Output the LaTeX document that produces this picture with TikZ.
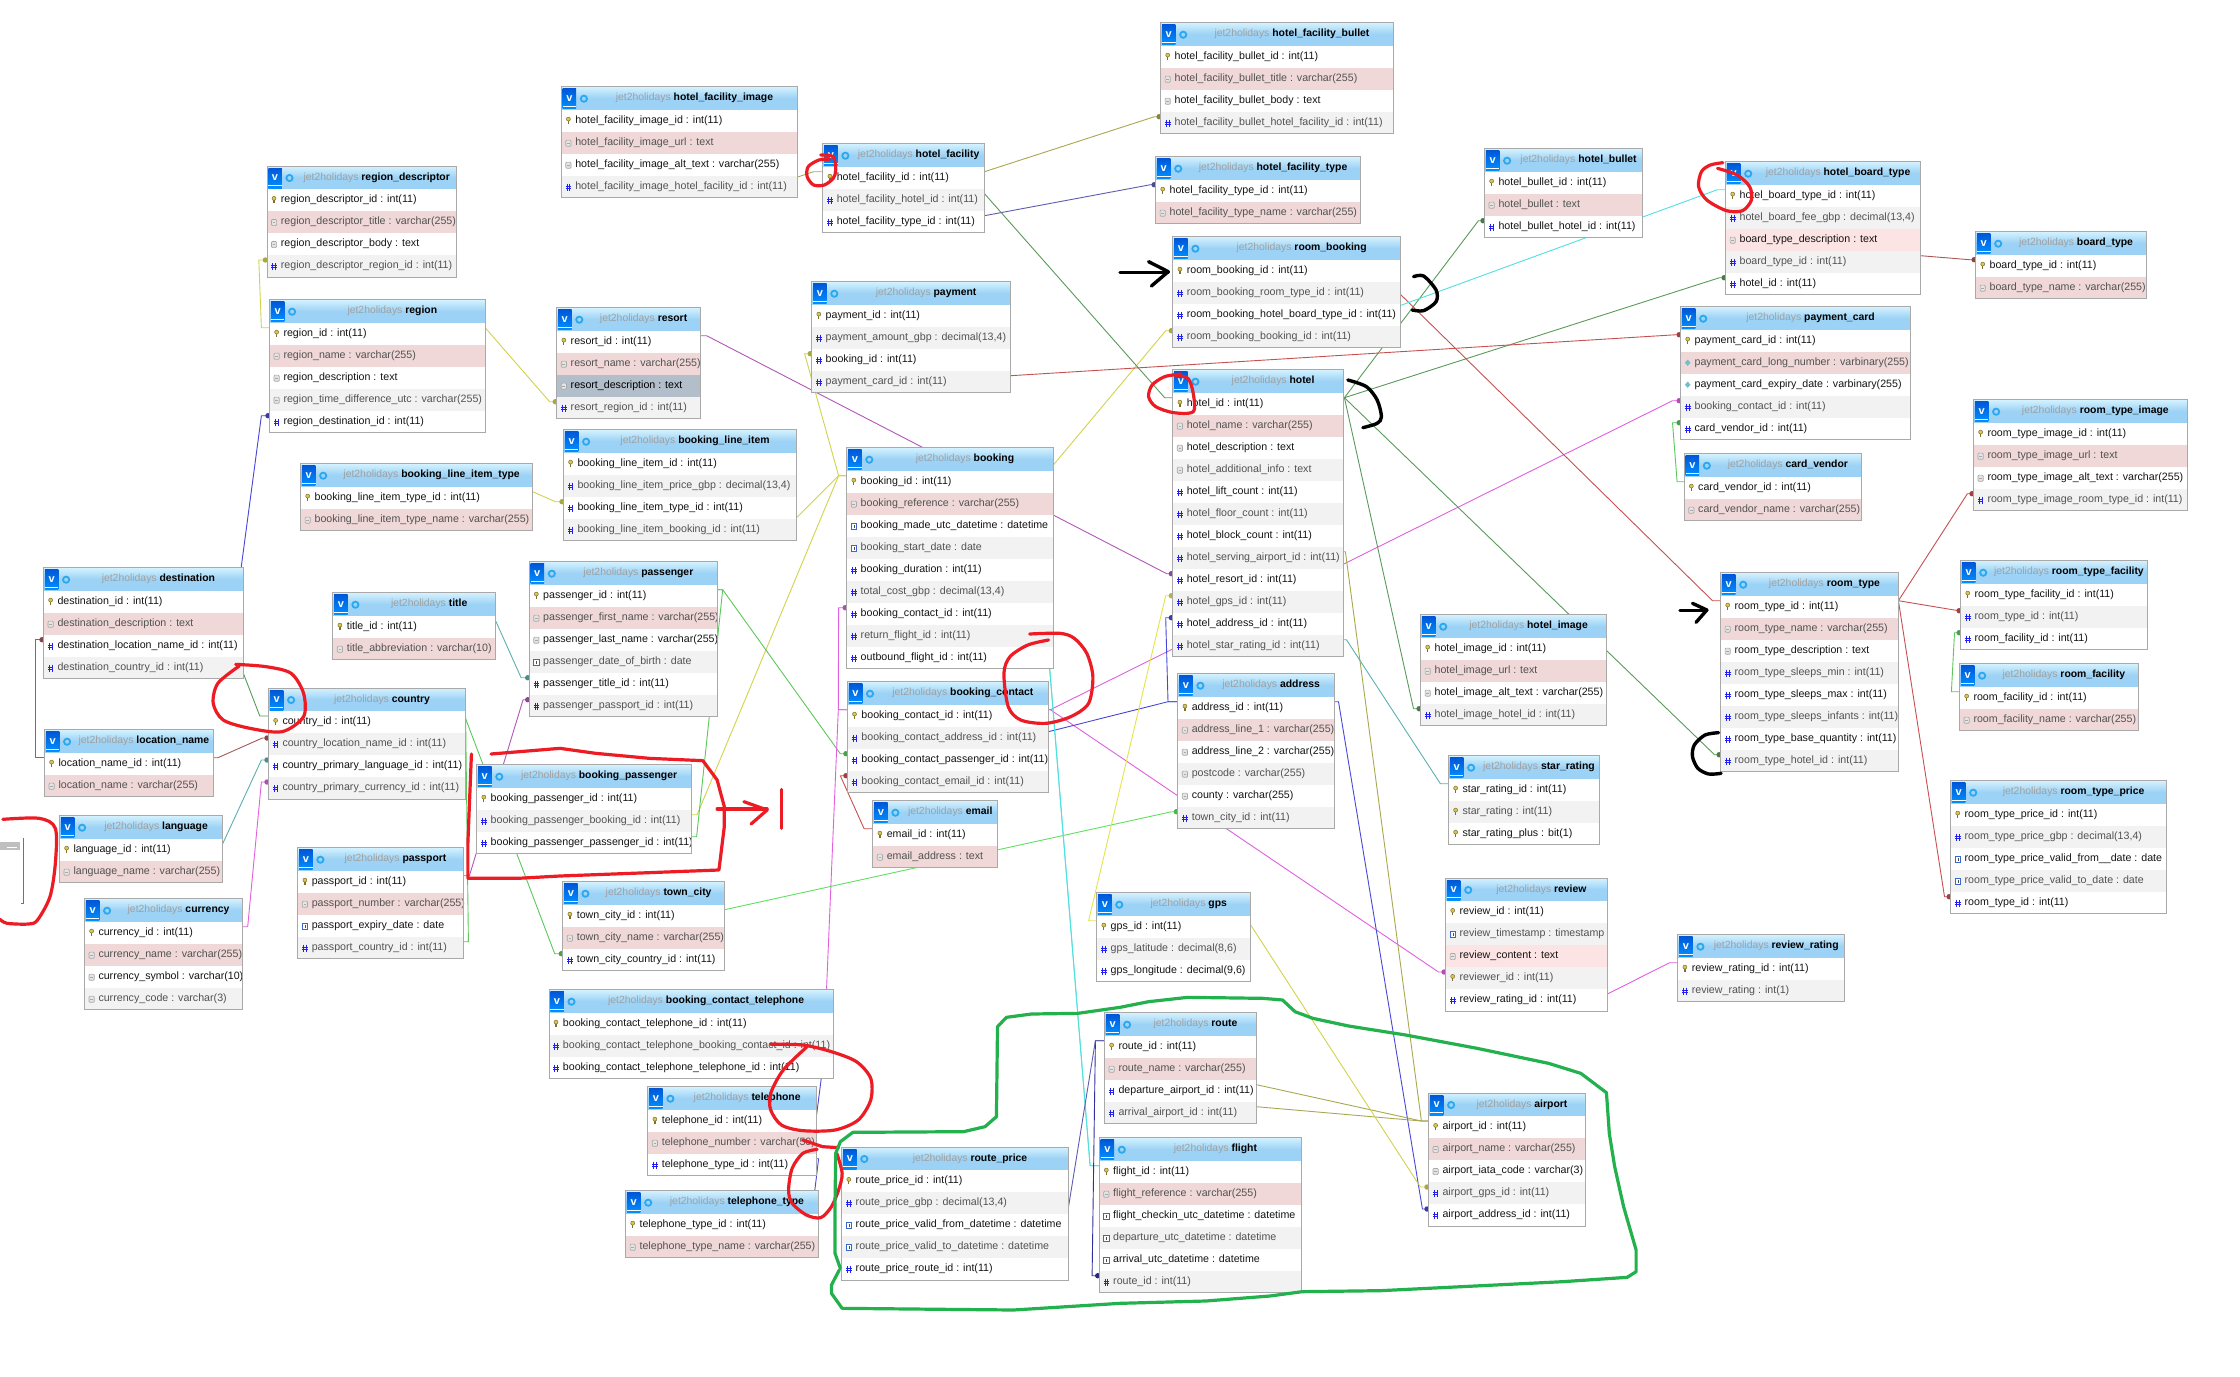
\documentclass[tikz,border=0pt]{standalone}
\usepackage{fontspec}
\setmainfont{Liberation Sans}
\usetikzlibrary{backgrounds,calc}
\definecolor{tblline}{HTML}{A9A9A9}
\definecolor{zebra}{HTML}{F2F2F2}
\definecolor{pk}{HTML}{F0D8D8}
\definecolor{pl}{HTML}{FDE4E4}
\definecolor{sel}{HTML}{B2BEC9}
\definecolor{ttlgrey}{HTML}{A0A0A0}
\definecolor{yel}{HTML}{D2D24E}
\definecolor{yelb}{HTML}{E4E44A}
\definecolor{olv}{HTML}{A8A850}
\definecolor{grn}{HTML}{5A9A5A}
\definecolor{lgrn}{HTML}{5CC85C}
\definecolor{bgrn}{HTML}{60E060}
\definecolor{redl}{HTML}{C85050}
\definecolor{dred}{HTML}{A85858}
\definecolor{mag}{HTML}{E060E0}
\definecolor{pur}{HTML}{B058B8}
\definecolor{blu}{HTML}{4848D8}
\definecolor{dblu}{HTML}{5C5CB0}
\definecolor{ndb}{HTML}{3030A0}
\definecolor{cya}{HTML}{50E0E0}
\definecolor{tea}{HTML}{5CB0B0}
\definecolor{mkred}{HTML}{ED1C24}
\definecolor{mkgrn}{HTML}{22B14C}
\tikzset{
  rowbox/.style={draw=none,inner sep=0pt,minimum height=22pt},
  rowtext/.style={anchor=west,inner sep=0pt,text height=7.6pt,text depth=2.2pt,font=\fontsize{10.65}{12}\selectfont},
  hdrbox/.style={draw=none,inner sep=0pt,minimum height=23pt,top color=D4F2FFc,bottom color=hdrblue,middle color=hdrblue},
  ttltext/.style={inner sep=0pt,text height=7.6pt,text depth=2.2pt,font=\fontsize{10.4}{12}\selectfont},
  tblbox/.style={draw=tblline,line width=1pt,inner sep=0pt,fill=none},
  vbox/.style={inner sep=0pt,minimum width=13.5pt,minimum height=20pt,top color=vtop,bottom color=vbot},
  link/.style={line width=0.9pt,line join=round},
  zm/.style 2 args={shift={(#1,#2)},x=0.35714pt,y=-0.33333pt},
  redmark/.style={draw=mkred,line width=3.2pt,line cap=round,line join=round},
  grnmark/.style={draw=mkgrn,line width=3.2pt,line cap=round,line join=round},
  blkmark/.style={draw=black,line width=3.4pt,line cap=round,line join=round}
}
\definecolor{D4F2FFc}{HTML}{D4F2FF}
\definecolor{hdrblue}{HTML}{9CD2F5}
\definecolor{vtop}{HTML}{0058D8}
\definecolor{vbot}{HTML}{0090FF}
\newcount\rwn
\newcommand\tbl[5]{%
  \def\tn{#1}\def\xa{#2}\def\xb{#3}\def\ya{#4}\rwn=0
  \pgfmathsetmacro\wid{#3-#2}%
  \pgfmathsetmacro\xm{(#2+#3)/2}%
  \node[hdrbox,minimum width=\wid pt] (#1-h) at (\xm,#4+11.5) {};
  \node[vbox,text=white,font=\bfseries\fontsize{11}{12}\selectfont] (#1-v) at (#2+8,#4+12) {v};
  \draw[white,line width=.7pt] (#2+1.2,#4+19.5) -- (#2+14.8,#4+19.5);
  \draw[draw=gearblue,line width=1.8pt] (#2+22.5,#4+12) circle (3.1);
  \node[ttltext] (#1-t) at (\xm+15,#4+11.5) {{\color{ttlgrey}jet2holidays} \textbf{#5}};
}
\definecolor{gearblue}{HTML}{2AA8F0}
\newcommand\rw[3][]{%
  \advance\rwn by 1
  \edef\rn{\number\rwn}%
  \pgfmathsetmacro\cy{\ya+23+22*(\rn-0.5)}%
  \def\rowfill{#1}%
  \ifx\rowfill\empty\ifodd\rwn\def\rowfill{white}\else\def\rowfill{zebra}\fi\fi
  \ifodd\rwn\def\rowtxt{black!92}\else\def\rowtxt{black!68}\fi
  \def\argfill{#1}\def\selname{sel}\ifx\argfill\selname\def\rowtxt{black}\fi
  \node[rowbox,fill=\rowfill,minimum width=\wid pt] (\tn-\rn) at (\xm,\cy) {};
  \csname ic#2\endcsname{\xa+7}{\cy}%
  \node[rowtext,text=\rowtxt] (\tn-\rn-t) at (\xa+13.7,\cy) {#3};
}
\newcommand\tbe{%
  \pgfmathsetmacro\hh{23+22*\number\rwn}%
  \node[tblbox,minimum width=\wid pt,minimum height=\hh pt] (\tn) at (\xm,\ya+\hh/2) {};
}
\newcommand\ick[2]{%
  \fill[keyy,draw=keyd,line width=.5pt] (#1,#2-1.6) circle (2);
  \draw[keyd,line width=1.3pt] (#1,#2) -- (#1,#2+3.2);
}
\newcommand\ich[2]{%
  \draw[hashb,line width=.8pt] (#1-1.4,#2-3) -- (#1-1.4,#2+4) (#1+1.4,#2-3) -- (#1+1.4,#2+4)
    (#1-2.8,#2-.8) -- (#1+2.8,#2-.8) (#1-2.8,#2+1.8) -- (#1+2.8,#2+1.8);
}
\newcommand\ict[2]{%
  \draw[iconb,fill=iconf,line width=.7pt,rounded corners=1pt] (#1-2.6,#2-2.6) rectangle (#1+2.6,#2+3.6);
  \draw[iconb,line width=.6pt] (#1-1.4,#2+.5) -- (#1+1.4,#2+.5);
}
\newcommand\icd[2]{%
  \draw[datb,fill=white,line width=.8pt] (#1-2.8,#2-2.6) rectangle (#1+2.8,#2+3.6);
  \fill[black!70] (#1-.2,#2-.8) rectangle (#1+1,#2+2.2);
}
\newcommand\icb[2]{%
  \fill[bint] (#1,#2-3.2) -- (#1+2.8,#2) -- (#1,#2+3.2) -- (#1-2.8,#2) -- cycle;
}
\definecolor{keyy}{HTML}{D8C850}
\definecolor{keyd}{HTML}{807030}
\definecolor{hashb}{HTML}{2020F0}
\definecolor{iconb}{HTML}{A8A8A8}
\definecolor{iconf}{HTML}{E4E4E4}
\definecolor{datb}{HTML}{3868D0}
\definecolor{bint}{HTML}{70C0C8}
\newcommand\lnk[5]{%
  \begin{pgfonlayer}{background}
  \draw[link,#1] ($(#2)+(0,-6)$) -- ($(#2)+(#3,-6)$) -- ($(#4)+(#5,-6)$) -- ($(#4)+(0,-6)$);
  \end{pgfonlayer}
}
\newcommand\dlnk[5]{%
  \lnk{#1}{#2}{#3}{#4}{#5}%
  \begin{pgfonlayer}{background}
  \fill[#1!80!black] ($(#4)+(0,-6)$) ++(-1.4,0) circle (2.7);
  \end{pgfonlayer}
}
\catcode`\_=12
\begin{document}
\begin{tikzpicture}[x=1pt,y=-1pt]
\useasboundingbox (0,0) rectangle (2240,1376);
\begin{pgfonlayer}{background}
\fill[white] (0,0) rectangle (2240,1376);
\end{pgfonlayer}

\tbl{region_descriptor}{267}{456.5}{166}{region_descriptor}
\rw{k}{region_descriptor_id : int(11)}
\rw[pk]{t}{region_descriptor_title : varchar(255)}
\rw{t}{region_descriptor_body : text}
\rw{h}{region_descriptor_region_id : int(11)}
\tbe
\tbl{region}{269.6}{485}{299.7}{region}
\rw{k}{region_id : int(11)}
\rw[pk]{t}{region_name : varchar(255)}
\rw{t}{region_description : text}
\rw{t}{region_time_difference_utc : varchar(255)}
\rw{h}{region_destination_id : int(11)}
\tbe
\tbl{hotel_facility_image}{561.4}{797.5}{86.7}{hotel_facility_image}
\rw{k}{hotel_facility_image_id : int(11)}
\rw[pk]{t}{hotel_facility_image_url : text}
\rw{t}{hotel_facility_image_alt_text : varchar(255)}
\rw{h}{hotel_facility_image_hotel_facility_id : int(11)}
\tbe
\tbl{hotel_facility}{822.9}{984.3}{143.7}{hotel_facility}
\rw{k}{hotel_facility_id : int(11)}
\rw{h}{hotel_facility_hotel_id : int(11)}
\rw{h}{hotel_facility_type_id : int(11)}
\tbe
\tbl{payment}{811.8}{1010.4}{281.7}{payment}
\rw{k}{payment_id : int(11)}
\rw{h}{payment_amount_gbp : decimal(13,4)}
\rw{h}{booking_id : int(11)}
\rw{h}{payment_card_id : int(11)}
\tbe
\tbl{resort}{556.8}{700.4}{307.7}{resort}
\rw{k}{resort_id : int(11)}
\rw[pk]{t}{resort_name : varchar(255)}
\rw[sel]{t}{resort_description : text}
\rw{h}{resort_region_id : int(11)}
\tbe
\tbl{booking_line_item}{563.6}{796.4}{429.7}{booking_line_item}
\rw{k}{booking_line_item_id : int(11)}
\rw{h}{booking_line_item_price_gbp : decimal(13,4)}
\rw{h}{booking_line_item_type_id : int(11)}
\rw{h}{booking_line_item_booking_id : int(11)}
\tbe
\tbl{booking}{846.8}{1053.2}{447.7}{booking}
\rw{k}{booking_id : int(11)}
\rw[pk]{t}{booking_reference : varchar(255)}
\rw{d}{booking_made_utc_datetime : datetime}
\rw{d}{booking_start_date : date}
\rw{h}{booking_duration : int(11)}
\rw{h}{total_cost_gbp : decimal(13,4)}
\rw{h}{booking_contact_id : int(11)}
\rw{h}{return_flight_id : int(11)}
\rw{h}{outbound_flight_id : int(11)}
\tbe
\tbl{hotel_facility_bullet}{1160.7}{1393.2}{22.7}{hotel_facility_bullet}
\rw{k}{hotel_facility_bullet_id : int(11)}
\rw[pk]{t}{hotel_facility_bullet_title : varchar(255)}
\rw{t}{hotel_facility_bullet_body : text}
\rw{h}{hotel_facility_bullet_hotel_facility_id : int(11)}
\tbe
\tbl{hotel_facility_type}{1155.7}{1360.4}{156.7}{hotel_facility_type}
\rw{k}{hotel_facility_type_id : int(11)}
\rw[pk]{t}{hotel_facility_type_name : varchar(255)}
\tbe
\tbl{room_booking}{1172.9}{1400.4}{236.7}{room_booking}
\rw{k}{room_booking_id : int(11)}
\rw{h}{room_booking_room_type_id : int(11)}
\rw{h}{room_booking_hotel_board_type_id : int(11)}
\rw{h}{room_booking_booking_id : int(11)}
\tbe
\tbl{hotel_bullet}{1484.6}{1642.5}{148.7}{hotel_bullet}
\rw{k}{hotel_bullet_id : int(11)}
\rw[pk]{t}{hotel_bullet : text}
\rw{h}{hotel_bullet_hotel_id : int(11)}
\tbe
\tbl{hotel}{1172.9}{1343.2}{369.7}{hotel}
\rw{k}{hotel_id : int(11)}
\rw[pk]{t}{hotel_name : varchar(255)}
\rw{t}{hotel_description : text}
\rw{t}{hotel_additional_info : text}
\rw{h}{hotel_lift_count : int(11)}
\rw{h}{hotel_floor_count : int(11)}
\rw{h}{hotel_block_count : int(11)}
\rw{h}{hotel_serving_airport_id : int(11)}
\rw{h}{hotel_resort_id : int(11)}
\rw{h}{hotel_gps_id : int(11)}
\rw{h}{hotel_address_id : int(11)}
\rw{h}{hotel_star_rating_id : int(11)}
\tbe
\tbl{hotel_board_type}{1725.7}{1920.4}{161.7}{hotel_board_type}
\rw{k}{hotel_board_type_id : int(11)}
\rw{h}{hotel_board_fee_gbp : decimal(13,4)}
\rw[pl]{t}{board_type_description : text}
\rw{h}{board_type_id : int(11)}
\rw{h}{hotel_id : int(11)}
\tbe
\tbl{board_type}{1975.7}{2146.4}{231.7}{board_type}
\rw{k}{board_type_id : int(11)}
\rw[pk]{t}{board_type_name : varchar(255)}
\tbe
\tbl{payment_card}{1680.7}{1910.4}{306.7}{payment_card}
\rw{k}{payment_card_id : int(11)}
\rw[pk]{b}{payment_card_long_number : varbinary(255)}
\rw{b}{payment_card_expiry_date : varbinary(255)}
\rw{h}{booking_contact_id : int(11)}
\rw{h}{card_vendor_id : int(11)}
\tbe
\tbl{card_vendor}{1684.3}{1861.4}{453.7}{card_vendor}
\rw{k}{card_vendor_id : int(11)}
\rw[pk]{t}{card_vendor_name : varchar(255)}
\tbe
\tbl{room_type_image}{1973.6}{2187.1}{399.7}{room_type_image}
\rw{k}{room_type_image_id : int(11)}
\rw[pk]{t}{room_type_image_url : text}
\rw{t}{room_type_image_alt_text : varchar(255)}
\rw{h}{room_type_image_room_type_id : int(11)}
\tbe
\tbl{booking_line_item_type}{300.7}{532.5}{463.7}{booking_line_item_type}
\rw{k}{booking_line_item_type_id : int(11)}
\rw[pk]{t}{booking_line_item_type_name : varchar(255)}
\tbe
\tbl{destination}{43.6}{243.2}{567.7}{destination}
\rw{k}{destination_id : int(11)}
\rw[pk]{t}{destination_description : text}
\rw{h}{destination_location_name_id : int(11)}
\rw{h}{destination_country_id : int(11)}
\tbe
\tbl{title}{332.9}{495.4}{592.7}{title}
\rw{k}{title_id : int(11)}
\rw[pk]{t}{title_abbreviation : varchar(10)}
\tbe
\tbl{passenger}{529.3}{717.5}{561.7}{passenger}
\rw{k}{passenger_id : int(11)}
\rw[pk]{t}{passenger_first_name : varchar(255)}
\rw{t}{passenger_last_name : varchar(255)}
\rw{d}{passenger_date_of_birth : date}
\rw{h}{passenger_title_id : int(11)}
\rw{h}{passenger_passport_id : int(11)}
\tbe
\tbl{country}{268.6}{465.4}{688}{country}
\rw{k}{country_id : int(11)}
\rw{h}{country_location_name_id : int(11)}
\rw{h}{country_primary_language_id : int(11)}
\rw{h}{country_primary_currency_id : int(11)}
\tbe
\tbl{location_name}{44.6}{213.2}{729.7}{location_name}
\rw{k}{location_name_id : int(11)}
\rw[pk]{t}{location_name : varchar(255)}
\tbe
\tbl{booking_passenger}{476.8}{691.4}{764.7}{booking_passenger}
\rw{k}{booking_passenger_id : int(11)}
\rw{h}{booking_passenger_booking_id : int(11)}
\rw{h}{booking_passenger_passenger_id : int(11)}
\tbe
\tbl{language}{59.6}{222.5}{815.7}{language}
\rw{k}{language_id : int(11)}
\rw[pk]{t}{language_name : varchar(255)}
\tbe
\tbl{passport}{297.9}{463.2}{847.7}{passport}
\rw{k}{passport_id : int(11)}
\rw[pk]{t}{passport_number : varchar(255)}
\rw{d}{passport_expiry_date : date}
\rw{h}{passport_country_id : int(11)}
\tbe
\tbl{currency}{84.6}{242.5}{898.7}{currency}
\rw{k}{currency_id : int(11)}
\rw[pk]{t}{currency_name : varchar(255)}
\rw{t}{currency_symbol : varchar(10)}
\rw{t}{currency_code : varchar(3)}
\tbe
\tbl{booking_contact}{847.5}{1048.2}{681.7}{booking_contact}
\rw{k}{booking_contact_id : int(11)}
\rw{h}{booking_contact_address_id : int(11)}
\rw{h}{booking_contact_passenger_id : int(11)}
\rw{h}{booking_contact_email_id : int(11)}
\tbe
\tbl{email}{872.9}{997.5}{800.7}{email}
\rw{k}{email_id : int(11)}
\rw[pk]{t}{email_address : text}
\tbe
\tbl{town_city}{562.9}{724.3}{881.7}{town_city}
\rw{k}{town_city_id : int(11)}
\rw[pk]{t}{town_city_name : varchar(255)}
\rw{h}{town_city_country_id : int(11)}
\tbe
\tbl{gps}{1096.8}{1250.7}{892.7}{gps}
\rw{k}{gps_id : int(11)}
\rw{h}{gps_latitude : decimal(8,6)}
\rw{h}{gps_longitude : decimal(9,6)}
\tbe
\tbl{address}{1177.9}{1334.3}{673.7}{address}
\rw{k}{address_id : int(11)}
\rw[pk]{t}{address_line_1 : varchar(255)}
\rw{t}{address_line_2 : varchar(255)}
\rw{t}{postcode : varchar(255)}
\rw{t}{county : varchar(255)}
\rw{h}{town_city_id : int(11)}
\tbe
\tbl{hotel_image}{1420.7}{1606.4}{614.7}{hotel_image}
\rw{k}{hotel_image_id : int(11)}
\rw[pk]{t}{hotel_image_url : text}
\rw{t}{hotel_image_alt_text : varchar(255)}
\rw{h}{hotel_image_hotel_id : int(11)}
\tbe
\tbl{star_rating}{1448.6}{1599.3}{755.7}{star_rating}
\rw{k}{star_rating_id : int(11)}
\rw{k}{star_rating : int(11)}
\rw{k}{star_rating_plus : bit(1)}
\tbe
\tbl{review}{1445.7}{1607.1}{878}{review}
\rw{k}{review_id : int(11)}
\rw{d}{review_timestamp : timestamp}
\rw[pl]{t}{review_content : text}
\rw{k}{reviewer_id : int(11)}
\rw{h}{review_rating_id : int(11)}
\tbe
\tbl{room_type}{1720.7}{1898.2}{572.7}{room_type}
\rw{k}{room_type_id : int(11)}
\rw[pk]{t}{room_type_name : varchar(255)}
\rw{t}{room_type_description : text}
\rw{h}{room_type_sleeps_min : int(11)}
\rw{h}{room_type_sleeps_max : int(11)}
\rw{h}{room_type_sleeps_infants : int(11)}
\rw{h}{room_type_base_quantity : int(11)}
\rw{h}{room_type_hotel_id : int(11)}
\tbe
\tbl{room_type_facility}{1960.7}{2147.1}{560.7}{room_type_facility}
\rw{k}{room_type_facility_id : int(11)}
\rw{h}{room_type_id : int(11)}
\rw{h}{room_facility_id : int(11)}
\tbe
\tbl{room_facility}{1959.6}{2138.2}{663.7}{room_facility}
\rw{k}{room_facility_id : int(11)}
\rw[pk]{t}{room_facility_name : varchar(255)}
\tbe
\tbl{room_type_price}{1950.7}{2166.4}{780.7}{room_type_price}
\rw{k}{room_type_price_id : int(11)}
\rw{h}{room_type_price_gbp : decimal(13,4)}
\rw{d}{room_type_price_valid_from__date : date}
\rw{d}{room_type_price_valid_to_date : date}
\rw{h}{room_type_id : int(11)}
\tbe
\tbl{booking_contact_telephone}{549}{833.2}{989.7}{booking_contact_telephone}
\rw{k}{booking_contact_telephone_id : int(11)}
\rw{h}{booking_contact_telephone_booking_contact_id : int(11)}
\rw{h}{booking_contact_telephone_telephone_id : int(11)}
\tbe
\tbl{telephone}{647.9}{816.4}{1086.7}{telephone}
\rw{k}{telephone_id : int(11)}
\rw[pk]{t}{telephone_number : varchar(50)}
\rw{h}{telephone_type_id : int(11)}
\tbe
\tbl{telephone_type}{625.7}{818.2}{1190.7}{telephone_type}
\rw{k}{telephone_type_id : int(11)}
\rw[pk]{t}{telephone_type_name : varchar(255)}
\tbe
\tbl{route_price}{841.8}{1068.2}{1147}{route_price}
\rw{k}{route_price_id : int(11)}
\rw{h}{route_price_gbp : decimal(13,4)}
\rw{d}{route_price_valid_from_datetime : datetime}
\rw{d}{route_price_valid_to_datetime : datetime}
\rw{h}{route_price_route_id : int(11)}
\tbe
\tbl{route}{1104.6}{1256.4}{1012.7}{route}
\rw{k}{route_id : int(11)}
\rw[pk]{t}{route_name : varchar(255)}
\rw{h}{departure_airport_id : int(11)}
\rw{h}{arrival_airport_id : int(11)}
\tbe
\tbl{flight}{1099.3}{1301.4}{1137.7}{flight}
\rw{k}{flight_id : int(11)}
\rw[pk]{t}{flight_reference : varchar(255)}
\rw{d}{flight_checkin_utc_datetime : datetime}
\rw{d}{departure_utc_datetime : datetime}
\rw{d}{arrival_utc_datetime : datetime}
\rw{h}{route_id : int(11)}
\tbe
\tbl{airport}{1428.6}{1585.4}{1093}{airport}
\rw{k}{airport_id : int(11)}
\rw[pk]{t}{airport_name : varchar(255)}
\rw{t}{airport_iata_code : varchar(3)}
\rw{h}{airport_gps_id : int(11)}
\rw{h}{airport_address_id : int(11)}
\tbe
\tbl{review_rating}{1677.9}{1844.6}{934.7}{review_rating}
\rw{k}{review_rating_id : int(11)}
\rw{h}{review_rating : int(1)}
\tbe

\dlnk{yel}{region-1.west}{-8}{region_descriptor-4.west}{-8}
\dlnk{yel}{region-1.east}{0}{resort-4.west}{-7}
\dlnk{blu}{destination-1.east}{-6}{region-5.west}{-8}
\dlnk{dred}{location_name-1.west}{-9}{destination-3.west}{-8}
\lnk{grn}{destination-4.east}{-4.5}{country-1.west}{-8.6}
\dlnk{dred}{location_name-1.east}{4.5}{country-2.west}{-6}
\dlnk{tea}{language-1.east}{0}{country-3.west}{-7}
\dlnk{mag}{currency-1.east}{5}{country-4.west}{-7}
\dlnk{lgrn}{country-1.east}{-1}{town_city-3.west}{-8}
\lnk{lgrn}{passport-4.east}{5}{country-1.east}{0}
\dlnk{pur}{passport-1.east}{6}{passenger-6.west}{-6}
\dlnk{tea}{title-1.east}{0}{passenger-5.west}{-8}
\dlnk{yel}{booking_line_item_type-1.east}{0}{booking_line_item-3.west}{-8}
\lnk{yel}{booking-1.west}{-8}{booking_line_item-4.east}{-6}
\dlnk{yel}{booking-1.west}{-8}{payment-3.west}{-7}
\lnk{yel}{booking-1.west}{-8}{booking_passenger-2.east}{5.5}
\dlnk{yel}{booking-1.east}{-9}{room_booking-4.west}{-7}
\dlnk{lgrn}{passenger-1.east}{5}{booking_contact-3.west}{-7}
\lnk{lgrn}{passenger-1.east}{5}{booking_passenger-3.east}{5}
\dlnk{mag}{booking_contact-1.west}{-9}{booking-7.west}{-8}
\lnk{mag}{booking_contact-1.west}{-9}{booking_contact_telephone-2.east}{-9}
\dlnk{mag}{booking_contact-1.east}{2}{payment_card-4.west}{-8}
\dlnk{mag}{booking_contact-1.east}{2}{review-4.west}{-7}
\lnk{blu}{booking_contact-2.east}{0}{address-1.west}{-9.7}
\dlnk{blu}{address-1.west}{-9.7}{hotel-11.west}{-7}
\dlnk{blu}{address-1.east}{4}{airport-5.west}{-6}
\dlnk{redl}{email-1.west}{-8.6}{booking_contact-4.west}{-7}
\dlnk{bgrn}{town_city-1.east}{0}{address-6.west}{-6}
\dlnk{pur}{resort-1.east}{6}{hotel-9.west}{-6}
\lnk{olv}{hotel_facility-1.west}{-9}{hotel_facility_image-4.east}{-11}
\dlnk{olv}{hotel_facility-1.east}{0}{hotel_facility_bullet-4.west}{-6}
\dlnk{dblu}{hotel_facility-3.east}{0}{hotel_facility_type-1.west}{-5}
\lnk{grn}{hotel_facility-2.east}{0}{hotel-1.west}{-8}
\dlnk{grn}{hotel-1.east}{1}{hotel_bullet-3.west}{-6}
\dlnk{grn}{hotel-1.east}{1}{hotel_board_type-5.west}{-6}
\dlnk{grn}{hotel-1.east}{1}{hotel_image-4.west}{-7}
\dlnk{grn}{hotel-1.east}{1}{room_type-8.west}{-6}
\dlnk{lgrn}{card_vendor-1.west}{-7}{payment_card-5.west}{-8}
\dlnk{redl}{payment-4.east}{0}{payment_card-1.west}{-4}
\lnk{olv}{hotel-8.east}{2}{airport-1.west}{-7}
\lnk{olv}{route-3.east}{0}{airport-1.west}{-7}
\lnk{olv}{route-4.east}{0}{airport-1.west}{-7}
\dlnk{yelb}{gps-1.west}{-8}{hotel-10.west}{-7}
\dlnk{yel}{gps-1.east}{-3}{airport-4.west}{-8}
\lnk{tea}{hotel-12.east}{3}{star_rating-1.west}{-8}
\lnk{mag}{review-5.east}{0}{review_rating-1.west}{-8}
\lnk{redl}{room_booking-2.east}{-8}{room_type-1.west}{-8}
\lnk{cya}{room_booking-3.east}{-9}{hotel_board_type-1.west}{-8}
\dlnk{dred}{hotel_board_type-4.east}{0}{board_type-1.west}{-6}
\dlnk{redl}{room_type-1.east}{0}{room_type_image-4.west}{-6}
\dlnk{redl}{room_type-1.east}{0}{room_type_facility-2.west}{-2}
\dlnk{redl}{room_type-1.east}{0}{room_type_price-5.west}{-6}
\dlnk{lgrn}{room_facility-1.west}{-8}{room_type_facility-3.west}{-6}
\lnk{cya}{booking-8.east}{-7}{flight-1.west}{-9}
\lnk{cya}{booking-9.east}{-5}{flight-1.west}{-9}
\dlnk{ndb}{route-1.west}{-9}{flight-6.west}{-7}
\lnk{dblu}{route-1.west}{-9}{route_price-5.east}{-9}
\lnk{blu}{booking_contact_telephone-3.east}{-10}{telephone-1.east}{0}
\lnk{blu}{telephone-3.east}{2}{telephone_type-1.east}{-7}

% window fragment at the left edge
\fill[black!25] (0,841.7) rectangle (19.6,850);
\fill[white] (7,847) rectangle (17,848);
\draw[black!55,line width=.8pt] (23,838) -- (23,903) -- (20.5,903);

% red hand marks
\begin{scope}[zm={560}{0}]
\draw[redmark] plot[smooth] coordinates {(730,465) (765,470) (772,510) (765,535) (740,555) (710,555) (692,530) (695,500) (725,480) (755,478)};
\end{scope}
\begin{scope}[zm={1120}{0}]
\draw[redmark] plot[smooth] coordinates {(150,1125) (190,1135) (205,1180) (205,1235) (150,1238) (100,1220) (80,1190) (90,1155) (125,1130) (170,1122)};
\draw[blkmark] (0,818) -- (135,818);
\draw[blkmark] (80,785) -- (135,815) -- (88,858);
\draw[blkmark] plot[smooth] coordinates {(822,830) (850,828) (885,870) (885,905) (850,932) (818,930)};
\draw[blkmark] plot[smooth] coordinates {(638,1140) (690,1160) (720,1200) (732,1250) (720,1270) (680,1283)};
\end{scope}
\begin{scope}[zm={1680}{0}]
\draw[redmark] plot[smooth] coordinates {(120,488) (85,495) (60,515) (52,560) (75,600) (130,632) (175,632) (200,600) (195,560) (160,525) (105,505)};
\end{scope}
\begin{scope}[zm={0}{460}]
\draw[redmark] plot[smooth] coordinates {(660,613) (745,620) (815,640) (850,700) (850,770) (790,815) (700,805) (625,780) (597,730) (610,670) (670,618)};
\draw[redmark] plot[smooth] coordinates {(8,1078) (110,1075) (155,1105) (155,1210) (140,1310) (105,1380) (80,1392) (20,1390) (0,1378)};
\draw[redmark] (1320,882) -- (1310,1150) -- (1310,1255) -- (1450,1255) -- (1568,1248) -- (1768,1240) -- (2013,1230) -- (2028,1100) -- (2028,1040) -- (2008,960) -- (1968,902) -- (1818,895) -- (1668,880) -- (1568,865) -- (1375,882);
\end{scope}
\begin{scope}[zm={560}{460}]
\draw[redmark] (440,1047) -- (580,1047);
\draw[redmark] (515,1025) -- (580,1050) -- (535,1092);
\draw[redmark] (620,988) -- (620,1105);
\draw[redmark] plot[smooth] coordinates {(1368,540) (1310,555) (1260,590) (1243,640) (1255,740) (1290,780) (1360,790) (1430,770) (1480,730) (1492,650) (1475,580) (1440,535) (1400,520) (1315,522)};
\end{scope}
\begin{scope}[zm={560}{920}]
\draw[redmark] plot[smooth] coordinates {(590,373) (680,375) (760,395) (830,425) (870,475) (870,540) (835,600) (770,630) (680,632) (620,615) (590,570) (590,520) (625,450) (690,382)};
\draw[redmark] (680,660) -- (735,680) -- (780,683);
\draw[redmark] plot[smooth] coordinates {(720,688) (680,700) (650,745) (640,810) (650,850) (690,885) (730,893) (760,860) (780,810) (790,760) (775,700)};
\draw[grnmark] (785,1045) -- (770,1000) -- (770,850) -- (772,700) -- (785,665) -- (820,637) -- (1130,635) -- (1190,620) -- (1222,590) -- (1225,320) -- (1250,292) -- (1320,282) -- (1450,280) -- (1568,262) -- (1648,245) -- (1758,232) -- (1968,235) -- (2023,240) -- (2058,275) -- (2108,295) -- (2208,318) -- (2368,345) -- (2568,385) -- (2768,430) -- (2858,460) -- (2930,518) -- (2938,640) -- (2953,740) -- (2978,860) -- (3013,990) -- (3013,1055) -- (2988,1072) -- (2808,1085) -- (2298,1112) -- (2078,1115) -- (1988,1128) -- (1808,1143) -- (1568,1150) -- (1270,1170) -- (790,1165) -- (760,1120) -- (760,1095) -- (782,1050);
\end{scope}
\begin{scope}[zm={1680}{460}]
\draw[blkmark] (0,452) -- (75,452);
\draw[blkmark] (35,430) -- (75,450) -- (45,487);
\draw[blkmark] plot[smooth] coordinates {(108,818) (70,825) (40,855) (35,890) (50,925) (80,942) (115,940)};
\end{scope}
\end{tikzpicture}
\end{document}
